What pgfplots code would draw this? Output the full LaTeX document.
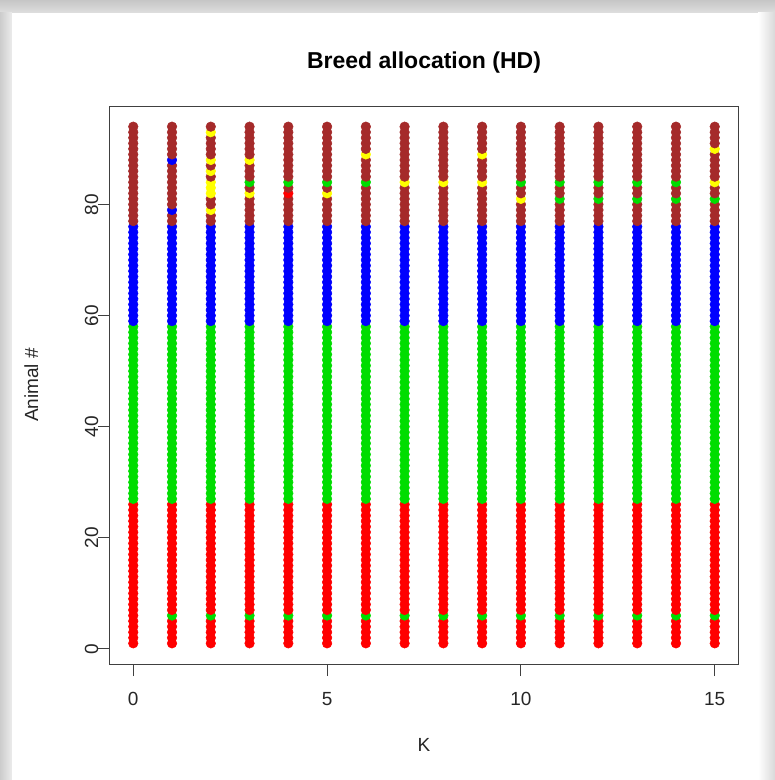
\documentclass[border=0pt]{standalone}
\usepackage{pgfplots}
\pgfplotsset{compat=1.18}
\usepackage{pgfplotstable}
\usepackage{fontspec}
\setmainfont{Liberation Sans}
\definecolor{rred}{HTML}{FF0000}
\definecolor{rgreen}{HTML}{00DD00}
\definecolor{rblue}{HTML}{0000FF}
\definecolor{rbrown}{HTML}{A52A2A}
\definecolor{ryellow}{HTML}{FFFF00}
% breed code per animal (row) and K (column): 1 red, 2 green, 3 blue, 4 brown, 5 yellow
\pgfplotstableread{
id k0 k1 k2 k3 k4 k5 k6 k7 k8 k9 k10 k11 k12 k13 k14 k15
1 1 1 1 1 1 1 1 1 1 1 1 1 1 1 1 1
2 1 1 1 1 1 1 1 1 1 1 1 1 1 1 1 1
3 1 1 1 1 1 1 1 1 1 1 1 1 1 1 1 1
4 1 1 1 1 1 1 1 1 1 1 1 1 1 1 1 1
5 1 1 1 1 1 1 1 1 1 1 1 1 1 1 1 1
6 1 2 2 2 2 2 2 2 2 2 2 2 2 2 2 2
7 1 1 1 1 1 1 1 1 1 1 1 1 1 1 1 1
8 1 1 1 1 1 1 1 1 1 1 1 1 1 1 1 1
9 1 1 1 1 1 1 1 1 1 1 1 1 1 1 1 1
10 1 1 1 1 1 1 1 1 1 1 1 1 1 1 1 1
11 1 1 1 1 1 1 1 1 1 1 1 1 1 1 1 1
12 1 1 1 1 1 1 1 1 1 1 1 1 1 1 1 1
13 1 1 1 1 1 1 1 1 1 1 1 1 1 1 1 1
14 1 1 1 1 1 1 1 1 1 1 1 1 1 1 1 1
15 1 1 1 1 1 1 1 1 1 1 1 1 1 1 1 1
16 1 1 1 1 1 1 1 1 1 1 1 1 1 1 1 1
17 1 1 1 1 1 1 1 1 1 1 1 1 1 1 1 1
18 1 1 1 1 1 1 1 1 1 1 1 1 1 1 1 1
19 1 1 1 1 1 1 1 1 1 1 1 1 1 1 1 1
20 1 1 1 1 1 1 1 1 1 1 1 1 1 1 1 1
21 1 1 1 1 1 1 1 1 1 1 1 1 1 1 1 1
22 1 1 1 1 1 1 1 1 1 1 1 1 1 1 1 1
23 1 1 1 1 1 1 1 1 1 1 1 1 1 1 1 1
24 1 1 1 1 1 1 1 1 1 1 1 1 1 1 1 1
25 1 1 1 1 1 1 1 1 1 1 1 1 1 1 1 1
26 1 1 1 1 1 1 1 1 1 1 1 1 1 1 1 1
27 2 2 2 2 2 2 2 2 2 2 2 2 2 2 2 2
28 2 2 2 2 2 2 2 2 2 2 2 2 2 2 2 2
29 2 2 2 2 2 2 2 2 2 2 2 2 2 2 2 2
30 2 2 2 2 2 2 2 2 2 2 2 2 2 2 2 2
31 2 2 2 2 2 2 2 2 2 2 2 2 2 2 2 2
32 2 2 2 2 2 2 2 2 2 2 2 2 2 2 2 2
33 2 2 2 2 2 2 2 2 2 2 2 2 2 2 2 2
34 2 2 2 2 2 2 2 2 2 2 2 2 2 2 2 2
35 2 2 2 2 2 2 2 2 2 2 2 2 2 2 2 2
36 2 2 2 2 2 2 2 2 2 2 2 2 2 2 2 2
37 2 2 2 2 2 2 2 2 2 2 2 2 2 2 2 2
38 2 2 2 2 2 2 2 2 2 2 2 2 2 2 2 2
39 2 2 2 2 2 2 2 2 2 2 2 2 2 2 2 2
40 2 2 2 2 2 2 2 2 2 2 2 2 2 2 2 2
41 2 2 2 2 2 2 2 2 2 2 2 2 2 2 2 2
42 2 2 2 2 2 2 2 2 2 2 2 2 2 2 2 2
43 2 2 2 2 2 2 2 2 2 2 2 2 2 2 2 2
44 2 2 2 2 2 2 2 2 2 2 2 2 2 2 2 2
45 2 2 2 2 2 2 2 2 2 2 2 2 2 2 2 2
46 2 2 2 2 2 2 2 2 2 2 2 2 2 2 2 2
47 2 2 2 2 2 2 2 2 2 2 2 2 2 2 2 2
48 2 2 2 2 2 2 2 2 2 2 2 2 2 2 2 2
49 2 2 2 2 2 2 2 2 2 2 2 2 2 2 2 2
50 2 2 2 2 2 2 2 2 2 2 2 2 2 2 2 2
51 2 2 2 2 2 2 2 2 2 2 2 2 2 2 2 2
52 2 2 2 2 2 2 2 2 2 2 2 2 2 2 2 2
53 2 2 2 2 2 2 2 2 2 2 2 2 2 2 2 2
54 2 2 2 2 2 2 2 2 2 2 2 2 2 2 2 2
55 2 2 2 2 2 2 2 2 2 2 2 2 2 2 2 2
56 2 2 2 2 2 2 2 2 2 2 2 2 2 2 2 2
57 2 2 2 2 2 2 2 2 2 2 2 2 2 2 2 2
58 2 2 2 2 2 2 2 2 2 2 2 2 2 2 2 2
59 3 3 3 3 3 3 3 3 3 3 3 3 3 3 3 3
60 3 3 3 3 3 3 3 3 3 3 3 3 3 3 3 3
61 3 3 3 3 3 3 3 3 3 3 3 3 3 3 3 3
62 3 3 3 3 3 3 3 3 3 3 3 3 3 3 3 3
63 3 3 3 3 3 3 3 3 3 3 3 3 3 3 3 3
64 3 3 3 3 3 3 3 3 3 3 3 3 3 3 3 3
65 3 3 3 3 3 3 3 3 3 3 3 3 3 3 3 3
66 3 3 3 3 3 3 3 3 3 3 3 3 3 3 3 3
67 3 3 3 3 3 3 3 3 3 3 3 3 3 3 3 3
68 3 3 3 3 3 3 3 3 3 3 3 3 3 3 3 3
69 3 3 3 3 3 3 3 3 3 3 3 3 3 3 3 3
70 3 3 3 3 3 3 3 3 3 3 3 3 3 3 3 3
71 3 3 3 3 3 3 3 3 3 3 3 3 3 3 3 3
72 3 3 3 3 3 3 3 3 3 3 3 3 3 3 3 3
73 3 3 3 3 3 3 3 3 3 3 3 3 3 3 3 3
74 3 3 3 3 3 3 3 3 3 3 3 3 3 3 3 3
75 3 3 3 3 3 3 3 3 3 3 3 3 3 3 3 3
76 3 3 3 3 3 3 3 3 3 3 3 3 3 3 3 3
77 4 4 4 4 4 4 4 4 4 4 4 4 4 4 4 4
78 4 4 4 4 4 4 4 4 4 4 4 4 4 4 4 4
79 4 3 5 4 4 4 4 4 4 4 4 4 4 4 4 4
80 4 4 4 4 4 4 4 4 4 4 4 4 4 4 4 4
81 4 4 4 4 4 4 4 4 4 4 5 2 2 2 2 2
82 4 4 5 5 1 5 4 4 4 4 4 4 4 4 4 4
83 4 4 5 4 4 4 4 4 4 4 4 4 4 4 4 4
84 4 4 5 2 2 2 2 5 5 5 2 2 2 2 2 5
85 4 4 4 4 4 4 4 4 4 4 4 4 4 4 4 4
86 4 4 5 4 4 4 4 4 4 4 4 4 4 4 4 4
87 4 4 4 4 4 4 4 4 4 4 4 4 4 4 4 4
88 4 3 5 5 4 4 4 4 4 4 4 4 4 4 4 4
89 4 4 4 4 4 4 5 4 4 5 4 4 4 4 4 4
90 4 4 4 4 4 4 4 4 4 4 4 4 4 4 4 5
91 4 4 4 4 4 4 4 4 4 4 4 4 4 4 4 4
92 4 4 4 4 4 4 4 4 4 4 4 4 4 4 4 4
93 4 4 5 4 4 4 4 4 4 4 4 4 4 4 4 4
94 4 4 4 4 4 4 4 4 4 4 4 4 4 4 4 4
}\breeds
\begin{document}
\begin{tikzpicture}
% page frame (screenshot border)
\path[use as bounding box, fill=white] (-110bp,-116bp) rectangle (665bp,664bp);
\shade[top color=gray!45, bottom color=gray!25] (-110bp,651bp) rectangle (665bp,664bp);
\shade[left color=gray!40, right color=gray!15] (-110bp,-116bp) rectangle (-98bp,651bp);
\shade[left color=white, right color=gray!30] (648bp,-116bp) rectangle (665bp,651bp);
\begin{axis}[
  name=ax, at={(0,0)}, anchor=south west,
  scale only axis, width=628bp, height=558bp,
  xmin=-0.6, xmax=15.6, ymin=-2.72, ymax=97.72,
  xtick={0,5,10,15}, ytick={0,20,40,60,80},
  tick pos=left, tick align=outside,
  major tick length=12bp,
  tick style={black!75, line width=0.9bp},
  axis line style={black!75, line width=1bp},
  axis background/.style={fill=white},
  /pgf/number format/assume math mode=true,
  ticklabel style={font=\fontsize{19bp}{22bp}\selectfont, text=black!85},
  xticklabel style={yshift=-13bp},
  yticklabel style={rotate=90, anchor=base},
  title={Breed allocation (HD)},
  title style={font=\fontsize{23bp}{27bp}\selectfont\bfseries, at={(axis description cs:0.5,1.0573)}, anchor=base},
  xlabel={K},
  xlabel style={font=\fontsize{19bp}{22bp}\selectfont, text=black!85, at={(axis description cs:0.5,-0.1577)}, anchor=base},
  ylabel={Animal \#},
  ylabel style={font=\fontsize{19bp}{22bp}\selectfont, text=black!85, at={(axis description cs:-0.1146,0.5)}, anchor=base, rotate=0},
  clip=false,
  scatter/classes={
    1={mark=*, draw=rred, fill=rred},
    2={mark=*, draw=rgreen, fill=rgreen},
    3={mark=*, draw=rblue, fill=rblue},
    4={mark=*, draw=rbrown, fill=rbrown},
    5={mark=*, draw=ryellow, fill=ryellow}},
]
\pgfplotsinvokeforeach{0,...,15}{
  \addplot[scatter, only marks, scatter src=explicit symbolic, mark size=4.8bp, mark options={line width=0.5bp}]
    table[x expr=#1, y=id, meta=k#1] {\breeds};
}
\end{axis}
\end{tikzpicture}
\end{document}
